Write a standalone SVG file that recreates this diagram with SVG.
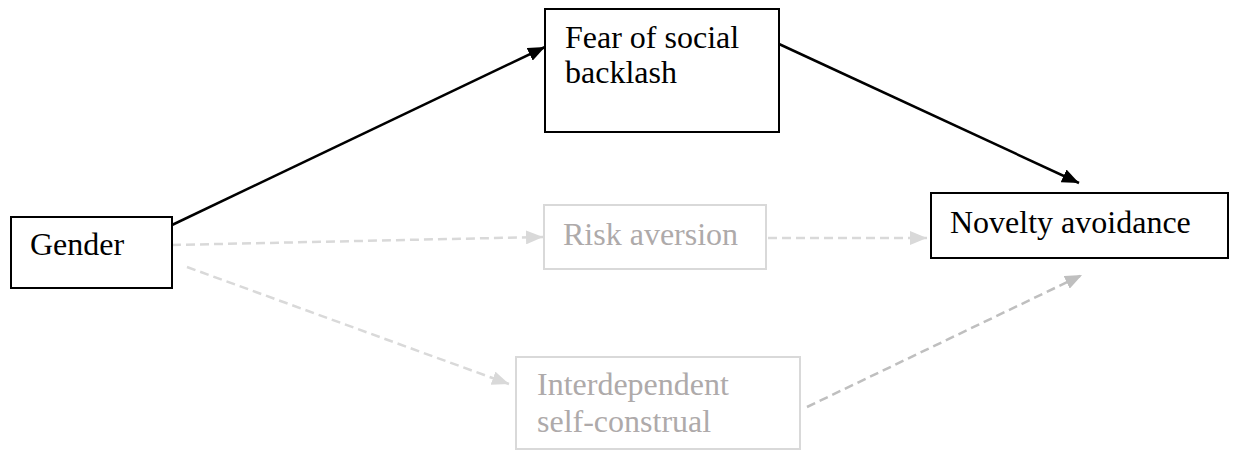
<svg xmlns="http://www.w3.org/2000/svg" width="1236" height="451" viewBox="0 0 1236 451">
<style>
.box{fill:#fff;stroke:#000;stroke-width:2}
.gbox{fill:#fff;stroke:#d9d9d9;stroke-width:2}
.t{font-family:"Liberation Serif","Times New Roman",serif;font-size:32px;fill:#000}
.gt{font-family:"Liberation Serif","Times New Roman",serif;font-size:32px;fill:#aeaaaa}
.solid{stroke:#000;stroke-width:2.5;fill:none}
.dash{stroke:#d9d9d9;stroke-width:2.5;fill:none;stroke-dasharray:9 5}
.dash2{stroke:#bfbfbf;stroke-width:2.5;fill:none;stroke-dasharray:9 5}
</style>
<defs>
<marker id="ab" markerUnits="userSpaceOnUse" markerWidth="18" markerHeight="14" refX="17" refY="7" orient="auto"><path d="M0,0 L17,7 L0,14 z" fill="#000"/></marker>
<marker id="ag" markerUnits="userSpaceOnUse" markerWidth="18" markerHeight="14" refX="17" refY="7" orient="auto"><path d="M0,0 L17,7 L0,14 z" fill="#d9d9d9"/></marker>
<marker id="ag2" markerUnits="userSpaceOnUse" markerWidth="18" markerHeight="14" refX="17" refY="7" orient="auto"><path d="M0,0 L17,7 L0,14 z" fill="#bfbfbf"/></marker>
</defs>
<g id="connectors">
<line class="solid" x1="172" y1="225" x2="545" y2="47" marker-end="url(#ab)"/>
<line class="solid" x1="779" y1="44" x2="1079" y2="183" marker-end="url(#ab)"/>
<line class="dash" x1="172" y1="245" x2="543" y2="237" marker-end="url(#ag)"/>
<line class="dash" x1="768" y1="238" x2="927" y2="238" marker-end="url(#ag)"/>
<line class="dash" x1="187" y1="267" x2="509" y2="384" marker-end="url(#ag)"/>
<line class="dash2" x1="807" y1="407" x2="1082" y2="275" marker-end="url(#ag2)"/>
</g>
<g id="gender">
<rect class="box" x="11" y="217" width="161" height="71"/>
<text class="t" x="30" y="255">Gender</text>
</g>
<g id="fear">
<rect class="box" x="545" y="9" width="234" height="123"/>
<text class="t" x="565" y="48">Fear of social</text>
<text class="t" x="565" y="83">backlash</text>
</g>
<g id="risk">
<rect class="gbox" x="544" y="205" width="222" height="64"/>
<text class="gt" x="563" y="245">Risk aversion</text>
</g>
<g id="novelty">
<rect class="box" x="931" y="193" width="297" height="65"/>
<text class="t" x="950" y="233">Novelty avoidance</text>
</g>
<g id="interdependent">
<rect class="gbox" x="516" y="357" width="284" height="92"/>
<text class="gt" x="537" y="395">Interdependent</text>
<text class="gt" x="537" y="432">self-construal</text>
</g>
</svg>
